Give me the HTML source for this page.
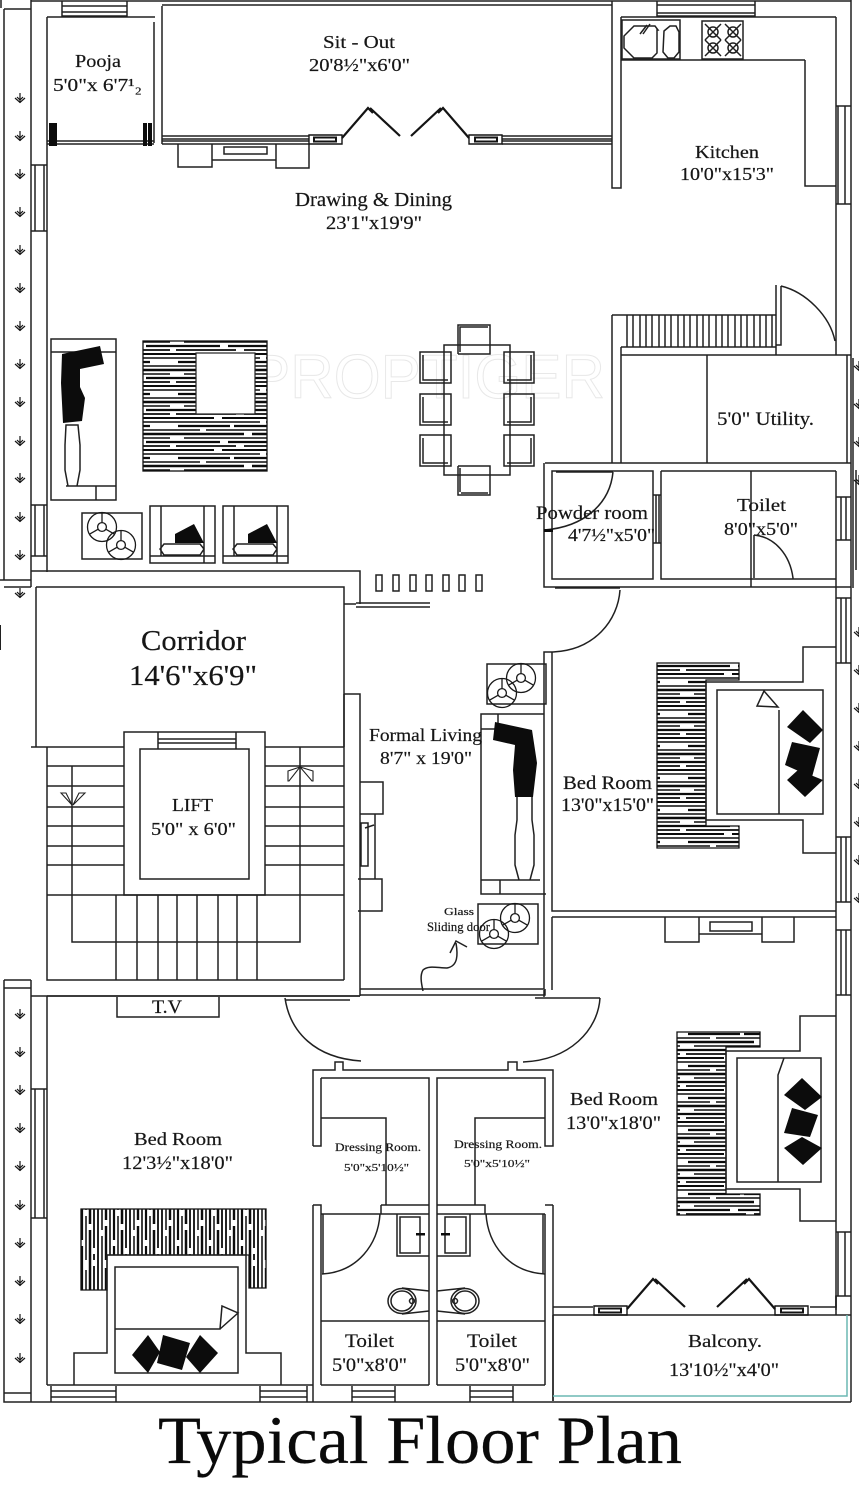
<!DOCTYPE html>
<html><head><meta charset="utf-8"><title>Typical Floor Plan</title>
<style>html,body{margin:0;padding:0;background:#fff}svg{display:block;filter:blur(.3px)}text{font-family:"Liberation Serif",serif;fill:#161616;stroke:#161616;stroke-width:.2;text-anchor:start}</style></head>
<body>
<svg xmlns="http://www.w3.org/2000/svg" width="859" height="1499" viewBox="0 0 859 1499">
<defs>
<pattern id="hh" width="170" height="32" patternUnits="userSpaceOnUse">
<rect width="170" height="32" fill="#fff"/>
<g fill="none" stroke="#0c0c0c">
<path d="M0 2H44M52 2H118M124 2H170" stroke-width="2"/>
<path d="M0 6H90M96 6H170" stroke-width="1.6"/>
<path d="M8 10H60M64 10H150" stroke-width="2.2"/>
<path d="M0 14H30M36 14H170" stroke-width="1.6"/>
<path d="M0 18H74M82 18H170" stroke-width="2.4"/>
<path d="M14 22H120M128 22H170" stroke-width="1.5"/>
<path d="M0 26H50M58 26H140M146 26H170" stroke-width="2.3"/>
<path d="M6 30H66M74 30H170" stroke-width="1.8"/>
</g></pattern>
<pattern id="hv" width="32" height="90" patternUnits="userSpaceOnUse">
<rect width="32" height="90" fill="#fff"/>
<g fill="none" stroke="#0c0c0c">
<path d="M2 0V30M2 36V90" stroke-width="1.8"/>
<path d="M6 0V60M6 66V90" stroke-width="1.5"/>
<path d="M10 8V50M10 56V90" stroke-width="2.4"/>
<path d="M14 0V20M14 26V90" stroke-width="1.6"/>
<path d="M18 0V70M18 76V90" stroke-width="2.2"/>
<path d="M22 10V40M22 46V90" stroke-width="1.5"/>
<path d="M26 0V54M26 60V90" stroke-width="2.5"/>
<path d="M30 6V78M30 84V90" stroke-width="1.8"/>
</g></pattern>
<symbol id="ar" overflow="visible"><path d="M0 -5V5M-5 0L0 4.5L5 0M-3 -1L0 2L3 -1" fill="none" stroke="#161616" stroke-width="1.2"/></symbol>
<g id="plant" fill="none" stroke="#1a1a1a" stroke-width="1.3"><circle r="14.5"/><circle r="4.4"/><path d="M0 -4.4V-14.5M-3.8 2.2L-12.5 7.2M3.8 2.2L12.5 7.2"/></g>
<g id="leftdoor" fill="none" stroke="#141414" stroke-width="1.4"><path d="M0 0H33V9H0Z"/><path d="M5 2.5H27V6.5H5Z" stroke-width="2"/><path d="M33 3L59 -27L64 -22M61 -27L91 1" stroke-width="2.2"/></g>
</defs>
<rect width="859" height="1499" fill="#fff"/>

<!-- watermark -->
<text x="250" y="398" font-size="62" textLength="355" lengthAdjust="spacingAndGlyphs" style="font-family:'Liberation Sans',sans-serif;fill:none;stroke:#e8e8e8;stroke-width:1">PROPTIGER</text>

<!-- hatch carpets -->
<rect x="143" y="341" width="124" height="130" fill="url(#hh)" stroke="#111" stroke-width="1.3"/>
<rect x="196" y="353" width="59" height="61" fill="#fff" stroke="#222" stroke-width="1.2"/>
<path d="M657 663H739V680H706V826H739V848H657Z" fill="url(#hh)" stroke="#111" stroke-width="1.3"/>
<path d="M677 1032H760V1047H726V1194H760V1215H677Z" fill="url(#hh)" stroke="#111" stroke-width="1.3"/>
<path d="M81 1209H266V1288H249V1255H107V1290H81Z" fill="url(#hv)" stroke="#111" stroke-width="1.3"/>

<g fill="none" stroke="#202020" stroke-width="1.5">
<!-- outer strip left -->
<path d="M4 9H31M4 9V580H31M4 587H31M0 580H31M1 8V0M31 0V587M31 1H851M851 0V1402"/>
<path d="M4 980H31M4 988H31M4 980V1402H851M4 1393H31M31 980V1402"/>
<path d="M853 358V588M856 470V570"/>
<path d="M0 625V650" stroke-width="2"/>

<!-- top windows -->
<path d="M62 1V16H127V1M62 6H127M62 12H127"/>
<path d="M657 1V16H755V1M657 5H755M657 13H755"/>
<!-- pooja -->
<path d="M47 17H155M47 17V572M154 22V143M162 6V144M162 5H612"/>
<path d="M47 141H154M47 144H154"/>
<!-- sit-out bottom -->
<path d="M162 136H309M162 139H309M162 141H309M162 144H309"/>
<path d="M502 136H612M502 139H612M502 141H612M502 144H612"/>
<path d="M612 1V188H621V17M621 17H836"/>
<!-- drawing cabinet -->
<path d="M178 144V167H212V144M276 144V168H309V144M212 160H276M224 147H267V154H224Z"/>
<!-- left windows -->
<path d="M31 165H47M31 231H47M35 165V231M44 165V231"/>
<path d="M31 505H47M31 556H47M35 505V556M44 505V556"/>
<!-- sofa left -->
<path d="M51 339H116V500H51ZM51 352H116M96 486V500M66 486H116M66 425H78L80 445V470L77 486H68L65 470V445Z"/>
<!-- corridor -->
<path d="M31 571H360V604M36 587H344V680M36 587V747M31 747H124M265 747H344M344 587V747"/>
<path d="M356 603H430M356 607H430M344 604H356"/>
<path d="M344 694H360V996M344 694V980"/>
<!-- small squares -->
<path d="M376 575h6v16h-6ZM393 575h6v16h-6ZM410 575h6v16h-6ZM426 575h6v16h-6ZM443 575h6v16h-6ZM459 575h6v16h-6ZM476 575h6v16h-6Z"/>
<!-- stairs -->
<path d="M47 747V980H344M31 996H360M47 996V1385"/>
<path d="M124 732H265V895H124ZM140 749H249V879H140ZM158 732V749M236 732V749M158 739H236M158 743H236"/>
<path d="M47 766H124M47 786H124M47 807H124M47 826H124M47 846H124M47 865H124M265 766H344M265 786H344M265 807H344M265 826H344M265 846H344M265 865H344M47 895H344"/>
<path d="M72 766V942H300V747M116 895V980M137 895V980M158 895V980M177 895V980M197 895V980M218 895V980M237 895V980M257 895V980"/>
<path d="M61 793L72 805L66 793L61 793ZM85 793L73 805L79 793Z M288 781V771L300 767L289 781ZM313 781V771L300 767L312 781Z" stroke-width="1.1"/>
<!-- fireplace -->
<path d="M360 782H383V814H360M358 879H382V911H358M375 814V879M361 823H368V866H361ZM365 828L374 825"/>
<!-- living -->
<path d="M360 989H544V652H552V911H836M360 995H530M552 917H836M552 917V990M530 995H545V989M553 652H544"/>
<!-- living sofa -->
<path d="M481 714H544M481 714V894H546M481 880H540M500 880V894M481 714H498V729H481ZM517 797V820L515 835V865L519 880M532 797V820L534 835V865L530 880"/>
<rect x="487" y="664" width="59" height="40"/>
<rect x="478" y="904" width="60" height="40"/>
<!-- Right room walls -->
<path d="M836 17V355M836 471V1310M805 60H621M805 60V186H836"/>
<path d="M838 106V204M845 106V204M836 106H851M836 204H851"/>
<path d="M836 598H851M836 663H851M841 598V663M846 598V663M836 837H851M836 902H851M841 837V902M846 837V902M836 930H851M836 995H851M841 930V995M846 930V995"/>
<path d="M838 1232V1296M845 1232V1296M836 1232H851M836 1296V1315"/>
<!-- kitchen lower -->
<path d="M612 315V463M612 315H776M621 347H776M621 355H851M545 463H851M621 347V463M707 355V463M847 355V463M776 285V355M781 286V345H776"/>
<path d="M627 315V347M633 315V347M640 315V347M646 315V347M652 315V347M659 315V347M665 315V347M671 315V347M678 315V347M684 315V347M690 315V347M697 315V347M703 315V347M709 315V347M716 315V347M722 315V347M728 315V347M735 315V347M741 315V347M747 315V347M754 315V347M760 315V347M766 315V347M772 315V347"/>
<path d="M781 286C806 292 830 316 835 341"/>
<!-- powder & toilet -->
<path d="M544 463V587H851M552 471H653V579H552ZM661 471H836M661 471V579H836M751 471V587M653 495H661M653 543H661M656 495V543M659 495V543M836 497H851M836 540H851M841 497V540M846 497V540"/>
<path d="M556 472H613M613 472C610 503 585 527 544 530M754 535V578M754 535C775 537 790 555 793 578V579"/>
<!-- bed 1 -->
<path d="M836 647H803V682H706V820H803V853H836M717 690H823V814H717ZM779 710V814M764 691L757 706L778 707Z"/>
<path d="M665 917V942H699V917M762 917V942H794V917M699 934H762M710 922H752V931H710Z"/>
<!-- bed 2 -->
<path d="M836 1016H800V1051H726V1189H800V1221H836M737 1058H821V1182H737ZM778 1182V1075L784 1058"/>
<!-- door bed rooms -->
<path d="M555 588H620M620 590C618 620 595 650 553 652"/>
<path d="M285 1000H350M285 998C290 1032 315 1058 361 1061"/>
<path d="M535 998H600M600 998C598 1030 570 1060 523 1062"/>
<path d="M544 990V997"/>
<!-- dressing rooms -->
<path d="M313 1146V1070H335V1062H343V1070H508V1062H517V1070H553V1146H545V1078H437V1385M321 1078H429V1385M321 1078V1146H313M321 1118H386V1205M475 1205V1118H545"/>
<path d="M381 1205H429M381 1214H321M381 1205V1214H429M437 1205H485V1214H437M485 1214H545M545 1214V1385M553 1205V1401M545 1205H553M313 1205H321V1385M313 1205V1402M321 1385H429M437 1385H545M321 1321H429M437 1321H545"/>
<path d="M380 1214C378 1244 358 1272 322 1274M323 1214V1274M486 1214C488 1244 508 1272 545 1274M543 1214V1274"/>
<path d="M397 1214V1256H429M400 1217H420V1253H400ZM470 1214V1256H437M445 1217H466V1253H445Z"/>
<ellipse cx="402" cy="1301" rx="14" ry="12.5"/><ellipse cx="402" cy="1301" rx="11" ry="10"/>
<ellipse cx="465" cy="1301" rx="14" ry="12.5"/><ellipse cx="465" cy="1301" rx="11" ry="10"/>
<path d="M402 1288L429 1291M402 1314L429 1311M465 1288L437 1291M465 1314L437 1311"/>
<circle cx="412" cy="1301" r="2.5"/><circle cx="455" cy="1301" r="2.5"/>
<path d="M352 1386V1402M395 1386V1402M352 1391H395M352 1397H395M470 1386V1402M513 1386V1402M470 1391H513M470 1397H513"/>
<path d="M51 1386V1402M116 1386V1402M51 1391H116M51 1397H116M260 1386V1402M307 1386V1402M260 1391H307M260 1397H307"/>
<!-- bed room left -->
<path d="M47 996H360M31 1089H47M31 1218H47M35 1089V1218M44 1089V1218M117 997V1017H219V997M47 1385H313"/>
<path d="M74 1385V1353H107V1255H246V1353H281V1385M115 1267H238V1373H115ZM115 1329H220L222 1306L238 1313L220 1329"/>
<!-- balcony -->
<path d="M553 1307H593M553 1315H851M553 1315V1401M810 1307H836V1296H851M810 1315"/>
<!-- sink and stove -->
<path d="M622 20H680V59H622ZM634 26H655L658 30H657L657 53L652 58H634L624 48V36ZM664 31L670 26H676L679 32V52L674 58H668L663 52Z"/>
<path d="M702 21H743V59H702Z"/>
<circle cx="713" cy="32" r="5"/><circle cx="733" cy="32" r="5"/><circle cx="713" cy="48" r="5"/><circle cx="733" cy="48" r="5"/>
<path d="M705 24L721 40M721 24L705 40M725 24L741 40M741 24L725 40M705 40L721 56M721 40L705 56M725 40L741 56M741 40L725 56"/>
<path d="M643 34L650 24M640 34L647 25"/>
<!-- dining -->
<rect x="444" y="345" width="66" height="130"/>
<path d="M458 354V325H490V354H458M460 352V327H488"/>
<path d="M458 466V495H490V466H458M460 492V468M461 493H488"/>
<path d="M451 352H420V383H451ZM423 355V380H448M451 394H420V425H451ZM423 397V422H448M451 435H420V466H451ZM423 438V463H448"/>
<path d="M504 352H534V383H504ZM531 355V380H507M504 394H534V425H504ZM531 397V422H507M504 435H534V466H504ZM531 438V463H507"/>
<!-- chairs -->
<path d="M150 506H215V563H150ZM161 506V556M204 506V563M150 556H215M164 544H200L204 549L200 555H164L160 549Z"/>
<path d="M223 506H288V563H223ZM234 506V556M277 506V563M223 556H288M237 544H273L277 549L273 555H237L233 549Z"/>
<rect x="82" y="513" width="60" height="46"/>
<!-- squiggle -->
<path d="M423 991C421 982 420 975 423 970C428 965 438 968 447 968C458 966 458 955 456 943M450 953L456 941L467 947"/>
</g>

<use href="#plant" x="102" y="527"/><use href="#plant" x="121" y="545"/>
<use href="#plant" x="521" y="678"/><use href="#plant" x="502" y="693"/>
<use href="#plant" x="515" y="918"/><use href="#plant" x="494" y="934"/>
<use href="#leftdoor" x="309" y="135"/>
<g transform="translate(502,135) scale(-1,1)"><use href="#leftdoor"/></g>
<use href="#leftdoor" x="594" y="1306"/>
<g transform="translate(808,1306) scale(-1,1)"><use href="#leftdoor"/></g>

<!-- balcony rail -->
<path d="M847 1315V1396H553" fill="none" stroke="#6cb8b4" stroke-width="1.5"/>

<!-- black fills -->
<g fill="#0c0c0c">
<rect x="49" y="123" width="8" height="23"/><rect x="143" y="123" width="4" height="23"/><rect x="148" y="123" width="4" height="23"/>
<path d="M62 354L100 346L104 364L80 369V387L85 398L82 421L63 423L61 383Z"/>
<path d="M495 722L532 730L537 763L533 797H515L513 770L515 745L493 740Z"/>
<path d="M175 534L194 524L204 543H175Z"/><path d="M248 534L267 524L277 543H248Z"/>
<path d="M803 710L823 730L810 743L787 727ZM792 742L820 748L812 777L785 765ZM798 770L823 780L805 797L787 780Z"/>
<path d="M802 1078L822 1097L805 1110L784 1095ZM792 1108L818 1115L810 1137L784 1133ZM802 1137L822 1148L803 1165L784 1148Z"/>
<path d="M148 1335L160 1352L148 1373L132 1355ZM163 1335L190 1343L182 1370L157 1363ZM200 1335L218 1353L200 1373L186 1357Z"/>
<path d="M544 529h9v3h-9ZM416 1233h9v2.5h-9ZM441 1233h9v2.5h-9Z"/>
</g>

<!-- arrows -->
<g>
<use href="#ar" x="20" y="98"/><use href="#ar" x="20" y="136"/><use href="#ar" x="20" y="174"/><use href="#ar" x="20" y="212"/><use href="#ar" x="20" y="250"/><use href="#ar" x="20" y="288"/><use href="#ar" x="20" y="326"/><use href="#ar" x="20" y="364"/><use href="#ar" x="20" y="402"/><use href="#ar" x="20" y="441"/><use href="#ar" x="20" y="478"/><use href="#ar" x="20" y="517"/><use href="#ar" x="20" y="555"/><use href="#ar" x="20" y="593"/>
<use href="#ar" x="20" y="1014"/><use href="#ar" x="20" y="1052"/><use href="#ar" x="20" y="1090"/><use href="#ar" x="20" y="1128"/><use href="#ar" x="20" y="1166"/><use href="#ar" x="20" y="1205"/><use href="#ar" x="20" y="1243"/><use href="#ar" x="20" y="1281"/><use href="#ar" x="20" y="1319"/><use href="#ar" x="20" y="1358"/>
<use href="#ar" x="859" y="366"/><use href="#ar" x="859" y="404"/><use href="#ar" x="859" y="442"/><use href="#ar" x="859" y="480"/><use href="#ar" x="859" y="632"/><use href="#ar" x="859" y="670"/><use href="#ar" x="859" y="708"/><use href="#ar" x="859" y="746"/><use href="#ar" x="859" y="784"/><use href="#ar" x="859" y="822"/><use href="#ar" x="859" y="860"/><use href="#ar" x="859" y="898"/>
</g>

<!-- labels -->
<g>
<text x="323" y="48" font-size="18" textLength="72" lengthAdjust="spacingAndGlyphs">Sit - Out</text>
<text x="309" y="71" font-size="18" textLength="101" lengthAdjust="spacingAndGlyphs">20'8½"x6'0"</text>
<text x="75" y="67" font-size="18" textLength="46" lengthAdjust="spacingAndGlyphs">Pooja</text>
<text x="53" y="91" font-size="18" textLength="89" lengthAdjust="spacingAndGlyphs">5'0"x 6'7¹₂</text>
<text x="295" y="206" font-size="20" textLength="157" lengthAdjust="spacingAndGlyphs">Drawing &amp; Dining</text>
<text x="326" y="229" font-size="19" textLength="96" lengthAdjust="spacingAndGlyphs">23'1"x19'9"</text>
<text x="695" y="158" font-size="18" textLength="64" lengthAdjust="spacingAndGlyphs">Kitchen</text>
<text x="680" y="180" font-size="18" textLength="94" lengthAdjust="spacingAndGlyphs">10'0"x15'3"</text>
<text x="717" y="425" font-size="19" textLength="97" lengthAdjust="spacingAndGlyphs">5'0" Utility.</text>
<text x="536" y="519" font-size="19" textLength="112" lengthAdjust="spacingAndGlyphs">Powder room</text>
<text x="568" y="541" font-size="18" textLength="87" lengthAdjust="spacingAndGlyphs">4'7½"x5'0"</text>
<text x="737" y="511" font-size="18" textLength="49" lengthAdjust="spacingAndGlyphs">Toilet</text>
<text x="724" y="535" font-size="18" textLength="74" lengthAdjust="spacingAndGlyphs">8'0"x5'0"</text>
<text x="141" y="650" font-size="29" textLength="105" lengthAdjust="spacingAndGlyphs">Corridor</text>
<text x="129" y="685" font-size="29" textLength="128" lengthAdjust="spacingAndGlyphs">14'6"x6'9"</text>
<text x="172" y="811" font-size="18" textLength="41" lengthAdjust="spacingAndGlyphs">LIFT</text>
<text x="151" y="835" font-size="18" textLength="85" lengthAdjust="spacingAndGlyphs">5'0" x 6'0"</text>
<text x="369" y="741" font-size="18" textLength="113" lengthAdjust="spacingAndGlyphs">Formal Living</text>
<text x="380" y="764" font-size="18" textLength="92" lengthAdjust="spacingAndGlyphs">8'7" x 19'0"</text>
<text x="563" y="789" font-size="19" textLength="89" lengthAdjust="spacingAndGlyphs">Bed Room</text>
<text x="561" y="811" font-size="19" textLength="93" lengthAdjust="spacingAndGlyphs">13'0"x15'0"</text>
<text x="444" y="915" font-size="11" textLength="30" lengthAdjust="spacingAndGlyphs">Glass</text>
<text x="427" y="931" font-size="13" textLength="63" lengthAdjust="spacingAndGlyphs">Sliding door</text>
<text x="152" y="1013" font-size="19" textLength="30" lengthAdjust="spacingAndGlyphs">T.V</text>
<text x="134" y="1145" font-size="18" textLength="88" lengthAdjust="spacingAndGlyphs">Bed Room</text>
<text x="122" y="1169" font-size="19" textLength="111" lengthAdjust="spacingAndGlyphs">12'3½"x18'0"</text>
<text x="335" y="1151" font-size="12" textLength="86" lengthAdjust="spacingAndGlyphs">Dressing Room.</text>
<text x="344" y="1171" font-size="11" textLength="65" lengthAdjust="spacingAndGlyphs">5'0"x5'10½"</text>
<text x="454" y="1148" font-size="12" textLength="88" lengthAdjust="spacingAndGlyphs">Dressing Room.</text>
<text x="464" y="1167" font-size="11" textLength="66" lengthAdjust="spacingAndGlyphs">5'0"x5'10½"</text>
<text x="570" y="1105" font-size="18" textLength="88" lengthAdjust="spacingAndGlyphs">Bed Room</text>
<text x="566" y="1129" font-size="19" textLength="95" lengthAdjust="spacingAndGlyphs">13'0"x18'0"</text>
<text x="345" y="1347" font-size="19" textLength="49" lengthAdjust="spacingAndGlyphs">Toilet</text>
<text x="332" y="1371" font-size="19" textLength="75" lengthAdjust="spacingAndGlyphs">5'0"x8'0"</text>
<text x="467" y="1347" font-size="19" textLength="50" lengthAdjust="spacingAndGlyphs">Toilet</text>
<text x="455" y="1371" font-size="19" textLength="75" lengthAdjust="spacingAndGlyphs">5'0"x8'0"</text>
<text x="688" y="1347" font-size="18" textLength="74" lengthAdjust="spacingAndGlyphs">Balcony.</text>
<text x="669" y="1376" font-size="19" textLength="110" lengthAdjust="spacingAndGlyphs">13'10½"x4'0"</text>
<text x="158" y="1463" font-size="68" textLength="524" lengthAdjust="spacingAndGlyphs" style="fill:#0a0a0a">Typical Floor Plan</text>
</g>
</svg>
</body></html>
